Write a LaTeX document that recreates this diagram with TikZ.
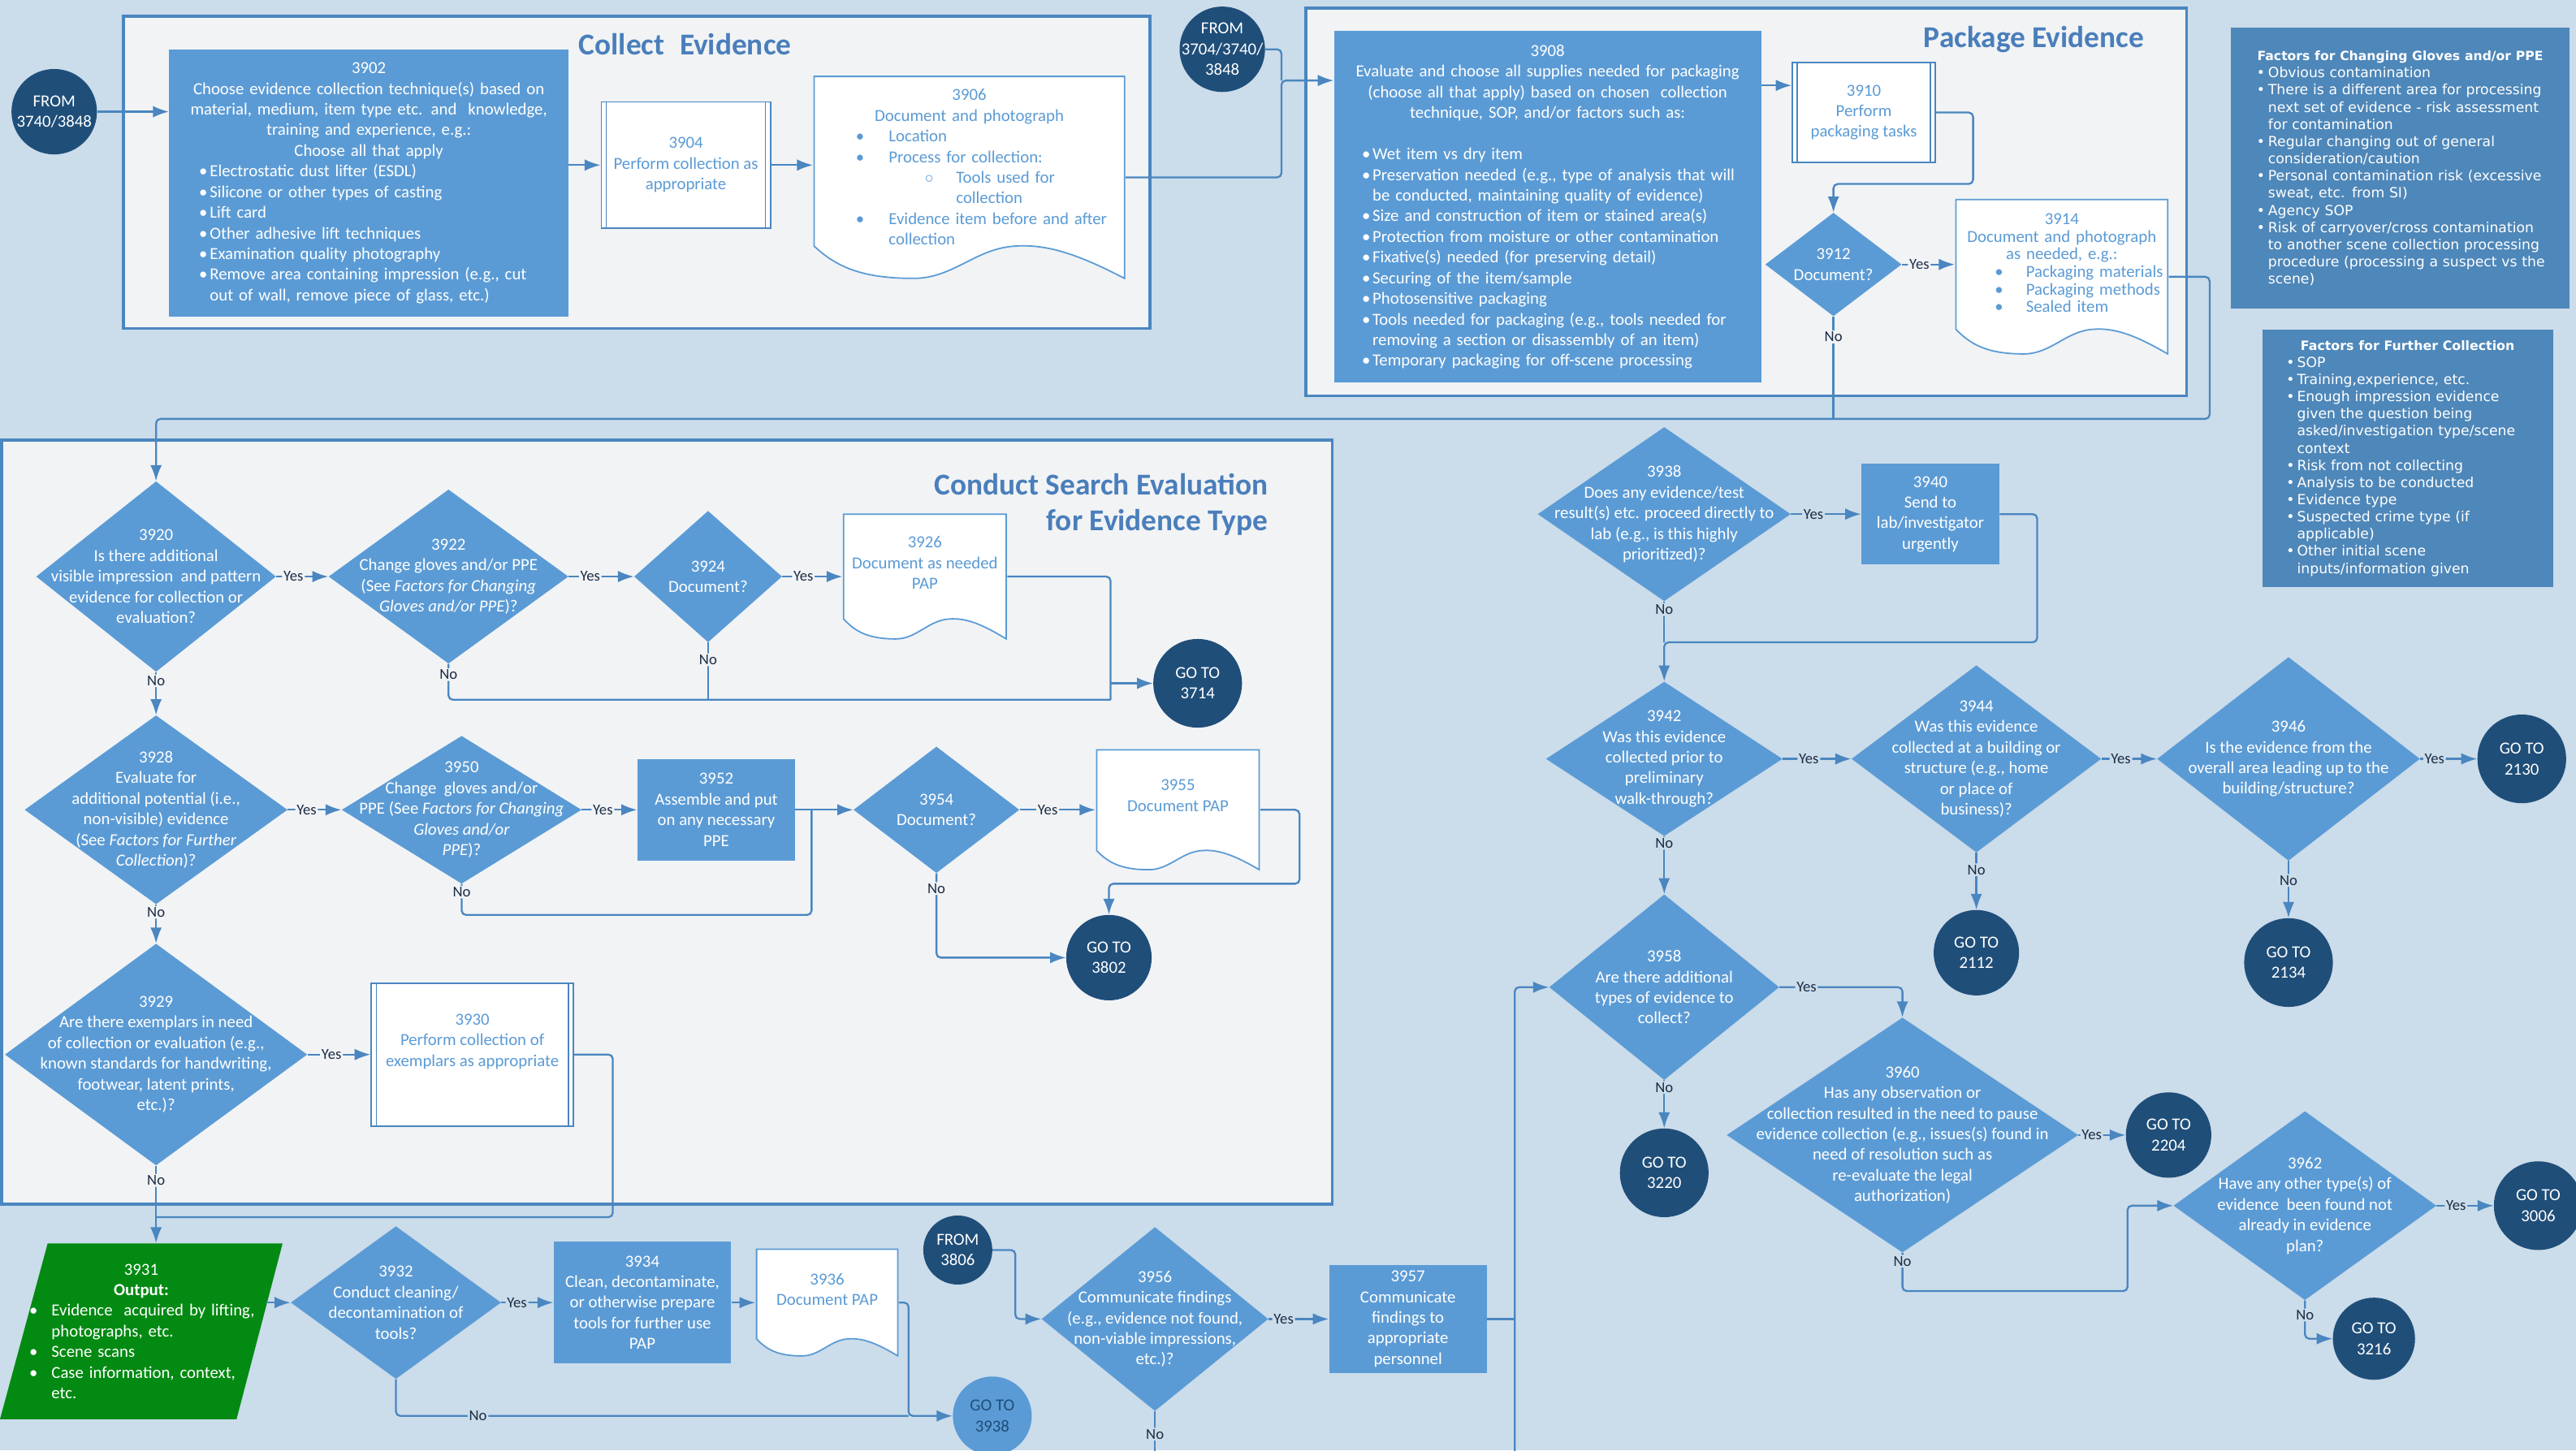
\documentclass[tikz,border=0pt]{standalone}
\usepackage{fontspec}
\setmainfont{Carlito}
\newfontfamily\factfont{DejaVu Sans}
\usetikzlibrary{shapes.geometric,arrows.meta,calc}

\definecolor{bgc}{HTML}{CBDCEA}
\definecolor{panelc}{HTML}{F1F3F5}
\definecolor{linec}{HTML}{4A86C0}
\definecolor{boxc}{HTML}{5B9BD5}
\definecolor{darkc}{HTML}{1F4E79}
\definecolor{factc}{HTML}{4E87B9}
\definecolor{greenc}{HTML}{038A12}
\definecolor{titlec}{HTML}{4A7EBB}
\definecolor{labc}{HTML}{1C2C45}

\hyphenpenalty=10000
\exhyphenpenalty=10000
\newcommand{\nfont}{\fontsize{11.7}{14.3}\selectfont}
\newcommand{\li}[3]{\par\leftskip=#1\hangindent=#2\hangafter=1\noindent\hbox to #2{#3\hfil}\ignorespaces}
\newcommand{\lift}[1]{\par\hbox{\rule{0pt}{#1}}}

\tikzset{
  sz/.style 2 args={minimum width=#1*0.04cm, minimum height=#2*0.04cm},
  panel/.style={draw=linec, line width=2pt, fill=panelc},
  ptitle/.style={text=titlec, font=\fontsize{21}{25}\selectfont\bfseries, align=right, inner sep=0pt},
  con/.style={draw=linec, line width=1.3pt, rounded corners=3pt},
  yn/.style={text=labc, font=\fontsize{10.5}{12}\selectfont, fill=panelc, inner sep=1pt},
  yno/.style={yn, fill=bgc},
  proc/.style={rectangle, fill=boxc, text=white, font=\nfont, align=center, inner sep=1pt},
  dia/.style 2 args={diamond, fill=boxc, inner sep=0pt, minimum width=#1*0.04cm, minimum height=#2*0.04cm},
  dtext/.style={text=white, font=\nfont, align=center, inner sep=0pt},
  gocirc/.style={circle, fill=darkc, inner sep=0pt, minimum size=#1*0.04cm},
  ctext/.style={text=white, font=\nfont, align=center, inner sep=0pt},
  wbox/.style={rectangle, draw=linec, line width=1pt, fill=white, text=boxc, font=\nfont, align=center, inner sep=1pt,
    path picture={\draw[linec, line width=0.8pt]
      ([xshift=3.4pt]path picture bounding box.north west) -- ([xshift=3.4pt]path picture bounding box.south west)
      ([xshift=-3.4pt]path picture bounding box.north east) -- ([xshift=-3.4pt]path picture bounding box.south east);}},
  docbox/.style={rectangle, text=boxc, font=\nfont, align=center, inner sep=1pt,
    path picture={\filldraw[draw=boxc, fill=white, line width=1pt]
      let \p1=([shift={(0.6pt,-0.6pt)}]path picture bounding box.north west),
          \p2=([shift={(-0.6pt,0.6pt)}]path picture bounding box.south east) in
      (\x1,\y1) -- (\x2,\y1) -- (\x2,\y2)
      .. controls ({\x1+0.85*(\x2-\x1)},{\y2+0.12*(\y1-\y2)}) and ({\x1+0.75*(\x2-\x1)},{\y2+0.17*(\y1-\y2)}) .. ({\x1+0.65*(\x2-\x1)},{\y2+0.16*(\y1-\y2)})
      .. controls ({\x1+0.52*(\x2-\x1)},{\y2+0.15*(\y1-\y2)}) and ({\x1+0.45*(\x2-\x1)},{\y2}) .. ({\x1+0.32*(\x2-\x1)},{\y2})
      .. controls ({\x1+0.15*(\x2-\x1)},{\y2}) and ({\x1+0.07*(\x2-\x1)},{\y2+0.06*(\y1-\y2)}) .. (\x1,{\y2+0.16*(\y1-\y2)}) -- cycle;}},
  outbox/.style={rectangle, text=white, font=\nfont, align=left, inner sep=1pt,
    path picture={\fill[greenc] ([xshift=1.16cm]path picture bounding box.north west) -- (path picture bounding box.north east)
      -- ([xshift=-1.12cm]path picture bounding box.south east) -- (path picture bounding box.south west) -- cycle;}},
  fact/.style={rectangle, fill=factc, text=white, font=\factfont\fontsize{9.7}{11.9}\selectfont, align=left, inner sep=2pt}
}

\begin{document}
\begin{tikzpicture}[x=0.04cm, y=-0.04cm]
\tikzset{>={Latex[length=11pt,width=8pt]}}
\useasboundingbox (0,0) rectangle (1568,883);
\clip (0,0) rectangle (1568,883);
\fill[bgc] (0,0) rectangle (1568,883);
\draw[panel] (75,10) rectangle (700,200);
\draw[panel] (795,5) rectangle (1331,241);
\draw[panel] (1,268) rectangle (811,733);
\node[ptitle] (tcollect) at (417,27) {Collect\enspace Evidence};
\node[ptitle] (tpackage) at (1238,24) {Package Evidence};
\node[ptitle, anchor=north east] (tsearch) at (772,288) {Conduct Search Evaluation\\for Evidence Type};

\node[gocirc=52] (from1) at (33,68) {};
\node[ctext] (from1t) at (from1) {FROM\\3740/3848};
\node[proc, sz={243}{163}, text width=8.9cm, align=left, inner xsep=0.4cm] (b3902) at (224.5,111.5) {%
{\centering 3902\\Choose evidence collection technique(s) based on\\material, medium, item type etc. and\ \ knowledge,\\training and experience, e.g.:\\Choose all that apply\par}
\li{0.32cm}{0.26cm}{\textbullet}Electrostatic dust lifter (ESDL)
\li{0.32cm}{0.26cm}{\textbullet}Silicone or other types of casting
\li{0.32cm}{0.26cm}{\textbullet}Lift card
\li{0.32cm}{0.26cm}{\textbullet}Other adhesive lift techniques
\li{0.32cm}{0.26cm}{\textbullet}Examination quality photography
\li{0.32cm}{0.26cm}{\textbullet}Remove area containing impression (e.g., cut\newline out of wall, remove piece of glass, etc.)\par};
\node[wbox, sz={103}{77}] (b3904) at (417.5,100.5) {3904\\Perform collection as\\appropriate};
\node[docbox, sz={190}{124}, text width=7.3cm, align=left] (d3906) at (590,108) {%
{\centering 3906\\Document and photograph\par}
\li{0.89cm}{0.8cm}{\textbullet}Location
\li{0.89cm}{0.8cm}{\textbullet}Process for collection:
\li{2.57cm}{0.76cm}{$\circ$}Tools used for\newline collection
\li{0.89cm}{0.8cm}{\textbullet}Evidence item before and after\newline collection\par
\lift{12pt}};

\node[gocirc=52] (from2) at (744,30) {};
\node[ctext] (from2t) at (from2) {FROM\\3704/3740/\\3848};
\node[proc, sz={260}{214}, text width=9.6cm, align=left, inner xsep=0.4cm] (b3908) at (942,126) {%
{\centering 3908\\Evaluate and choose all supplies needed for packaging\\(choose all that apply) based on chosen\ \ collection\\technique, SOP, and/or factors such as:\par}
\vspace{14.3pt}
\li{0.28cm}{0.26cm}{\textbullet}Wet item vs dry item
\li{0.28cm}{0.26cm}{\textbullet}Preservation needed (e.g., type of analysis that will\newline be conducted, maintaining quality of evidence)
\li{0.28cm}{0.26cm}{\textbullet}Size and construction of item or stained area(s)
\li{0.28cm}{0.26cm}{\textbullet}Protection from moisture or other contamination
\li{0.28cm}{0.26cm}{\textbullet}Fixative(s) needed (for preserving detail)
\li{0.28cm}{0.26cm}{\textbullet}Securing of the item/sample
\li{0.28cm}{0.26cm}{\textbullet}Photosensitive packaging
\li{0.28cm}{0.26cm}{\textbullet}Tools needed for packaging (e.g., tools needed for\newline removing a section or disassembly of an item)
\li{0.28cm}{0.26cm}{\textbullet}Temporary packaging for off-scene processing\par};
\node[wbox, sz={87}{61}] (b3910) at (1134.5,68.5) {3910\\Perform\\packaging tasks};
\node[dia={83}{63}] (d3912) at (1116,161) {};
\node[dtext] (t3912) at (d3912) {3912\\Document?};
\node[docbox, sz={130}{95}, text width=5.1cm, align=left, font=\fontsize{11.7}{12.2}\selectfont] (d3914) at (1255,168.5) {%
{\centering 3914\\Document and photograph\\as needed, e.g.:\par}
\li{0.92cm}{0.76cm}{\textbullet}Packaging materials
\li{0.92cm}{0.76cm}{\textbullet}Packaging methods
\li{0.92cm}{0.76cm}{\textbullet}Sealed item\par
\lift{18pt}};

\node[fact, sz={206}{171}, text width=7.15cm] (f1) at (1461,102.5) {%
\hbox to \linewidth{\hss\bfseries\fontsize{8.8}{11.9}\selectfont Factors for Changing Gloves and/or PPE\hss}
\li{0.08cm}{0.28cm}{\textbullet}Obvious contamination
\li{0.08cm}{0.28cm}{\textbullet}There is a different area for processing\newline next set of evidence - risk assessment\newline for contamination
\li{0.08cm}{0.28cm}{\textbullet}Regular changing out of general\newline consideration/caution
\li{0.08cm}{0.28cm}{\textbullet}Personal contamination risk (excessive\newline sweat, etc. from SI)
\li{0.08cm}{0.28cm}{\textbullet}Agency SOP
\li{0.08cm}{0.28cm}{\textbullet}Risk of carryover/cross contamination\newline to another scene collection processing\newline procedure (processing a suspect vs the\newline scene)\par};
\node[fact, sz={177}{157}, text width=5.9cm] (f2) at (1465.5,279) {%
{\centering\bfseries\fontsize{8.9}{11.9}\selectfont Factors for Further Collection\par}
\li{0pt}{0.26cm}{\textbullet}SOP
\li{0pt}{0.26cm}{\textbullet}Training,experience, etc.
\li{0pt}{0.26cm}{\textbullet}Enough impression evidence\newline given the question being\newline asked/investigation type/scene\newline context
\li{0pt}{0.26cm}{\textbullet}Risk from not collecting
\li{0pt}{0.26cm}{\textbullet}Analysis to be conducted
\li{0pt}{0.26cm}{\textbullet}Evidence type
\li{0pt}{0.26cm}{\textbullet}Suspected crime type (if\newline applicable)
\li{0pt}{0.26cm}{\textbullet}Other initial scene\newline inputs/information given\par};

\node[dia={146}{116}] (d3920) at (95,351) {};
\node[dtext] (t3920) at (d3920) {3920\\Is there additional\\visible impression\ \ and pattern\\evidence for collection or\\evaluation?};
\node[dia={146}{106}] (d3922) at (273,351) {};
\node[dtext] (t3922) at (d3922) {3922\\Change gloves and/or PPE\\(See \textit{Factors for Changing}\\\textit{Gloves and/or PPE})?};
\node[dia={90}{80}] (d3924) at (431,351) {};
\node[dtext] (t3924) at (d3924) {3924\\Document?};
\node[docbox, sz={100}{77}, text depth=19pt] (d3926) at (563,351) {3926\\Document as needed\\PAP};
\node[gocirc=54] (c3714) at (729,416) {};
\node[ctext] (c3714t) at (c3714) {GO TO\\3714};

\node[dia={160}{115}] (d3928) at (95,493) {};
\node[dtext] (t3928) at (d3928) {3928\\Evaluate for\\additional potential (i.e.,\\non-visible) evidence\\(See \textit{Factors for Further}\\\textit{Collection})?};
\node[dia={146}{90}] (d3950) at (281,493) {};
\node[dtext] (t3950) at (d3950) {3950\\Change\ \ gloves and/or\\PPE (See \textit{Factors for Changing}\\\textit{Gloves and/or}\\\textit{PPE})?};
\node[proc, sz={96}{62}] (b3952) at (436,493) {3952\\Assemble and put\\on any necessary\\PPE};
\node[dia={101}{77}] (d3954) at (570,493) {};
\node[dtext] (t3954) at (d3954) {3954\\Document?};
\node[docbox, sz={100}{74}, text depth=20pt] (d3955) at (717,493) {3955\\Document PAP};
\node[gocirc=52] (c3802) at (675,583) {};
\node[ctext] (c3802t) at (c3802) {GO TO\\3802};

\node[dia={184}{135}] (d3929) at (95,642) {};
\node[dtext] (t3929) at (d3929) {3929\\Are there exemplars in need\\of collection or evaluation (e.g.,\\known standards for handwriting,\\footwear, latent prints,\\etc.)?};
\node[wbox, sz={123}{87}, text depth=20pt] (b3930) at (287.5,642) {3930\\Perform collection of\\exemplars as appropriate};

\node[outbox, sz={172}{107}, text width=5.85cm] (p3931) at (86,810.5) {%
{\centering 3931\\\textbf{Output:}\par}
\li{0.2cm}{0.54cm}{\textbullet}Evidence\ \ acquired by lifting,\newline photographs, etc.
\li{0.2cm}{0.54cm}{\textbullet}Scene scans
\li{0.2cm}{0.54cm}{\textbullet}Case information, context,\newline etc.\par};
\node[dia={128}{93}] (d3932) at (241,793) {};
\node[dtext] (t3932) at (d3932) {3932\\Conduct cleaning/\\decontamination of\\tools?};
\node[proc, sz={108}{74}] (b3934) at (391,793) {3934\\Clean, decontaminate,\\or otherwise prepare\\tools for further use\\PAP};
\node[docbox, sz={87}{66}, text depth=18pt] (d3936) at (503.5,793) {3936\\Document PAP};
\node[gocirc=48, fill=boxc] (c3938) at (604,862) {};
\node[ctext, text=darkc] (c3938t) at (c3938) {GO TO\\3938};
\node[gocirc=42] (c3806) at (583,761) {};
\node[ctext] (c3806t) at (c3806) {FROM\\3806};
\node[dia={138}{112}] (d3956) at (703,803) {};
\node[dtext] (t3956) at (d3956) {3956\\Communicate findings\\(e.g., evidence not found,\\non-viable impressions,\\etc.)?};
\node[proc, sz={96}{66}] (b3957) at (857,803) {3957\\Communicate\\findings to\\appropriate\\personnel};

\node[dia={154}{106}] (d3938) at (1013,313) {};
\node[dtext] (t3938) at (d3938) {3938\\Does any evidence/test\\result(s) etc. proceed directly to\\lab (e.g., is this highly\\prioritized)?};
\node[proc, sz={84}{61}] (b3940) at (1175,313) {3940\\Send to\\lab/investigator\\urgently};
\node[dia={144}{94}] (d3942) at (1013,462) {};
\node[dtext] (t3942) at (d3942) {3942\\Was this evidence\\collected prior to\\preliminary\\walk-through?};
\node[dia={152}{114}] (d3944) at (1203,462) {};
\node[dtext] (t3944) at (d3944) {3944\\Was this evidence\\collected at a building or\\structure (e.g., home\\or place of\\business)?};
\node[dia={160}{124}] (d3946) at (1393,462) {};
\node[dtext] (t3946) at (d3946) {3946\\Is the evidence from the\\overall area leading up to the\\building/structure?};
\node[gocirc=54] (c2130) at (1535,462) {};
\node[ctext] (c2130t) at (c2130) {GO TO\\2130};
\node[gocirc=52] (c2112) at (1203,580) {};
\node[ctext] (c2112t) at (c2112) {GO TO\\2112};
\node[gocirc=54] (c2134) at (1393,586) {};
\node[ctext] (c2134t) at (c2134) {GO TO\\2134};
\node[dia={140}{113}] (d3958) at (1013,601) {};
\node[dtext] (t3958) at (d3958) {3958\\Are there additional\\types of evidence to\\collect?};
\node[dia={214}{143}] (d3960) at (1158,691) {};
\node[dtext] (t3960) at (d3960) {3960\\Has any observation or\\collection resulted in the need to pause\\evidence collection (e.g., issues(s) found in\\need of resolution such as\\re-evaluate the legal\\authorization)};
\node[gocirc=52] (c2204) at (1320,691) {};
\node[ctext] (c2204t) at (c2204) {GO TO\\2204};
\node[gocirc=54] (c3220) at (1013,714) {};
\node[ctext] (c3220t) at (c3220) {GO TO\\3220};
\node[dia={160}{115}] (d3962) at (1403,734) {};
\node[dtext] (t3962) at (d3962) {3962\\Have any other type(s) of\\evidence\ \ been found not\\already in evidence\\plan?};
\node[gocirc=54] (c3006) at (1545,734) {};
\node[ctext] (c3006t) at (c3006) {GO TO\\3006};
\node[gocirc=50] (c3216) at (1445,815) {};
\node[ctext] (c3216t) at (c3216) {GO TO\\3216};

\coordinate (j1) at (780,49);
\coordinate (a3910) at ([yshift=0.66cm]b3910.west);
\coordinate (j2) at (1201,112);
\coordinate (j3) at (1345,255);
\coordinate (j4) at (95,255);
\coordinate (j5) at (676,426);
\coordinate (j7) at (494,557);
\coordinate (j8) at (791,538);
\coordinate (j9) at (373,741);
\coordinate (s3931) at (162,793);
\coordinate (j11) at (553,862);
\coordinate (j12) at (618,803);
\coordinate (j13) at (922,803);
\coordinate (j14) at (922,900);
\coordinate (j15) at (1240,391);
\coordinate (j16) at (1295,786);

\draw[con,->] (from1) -- (b3902.west |- from1);
\draw[con,->] (b3902.east |- b3904) -- (b3904);
\draw[con,->] (b3904) -- (d3906.west |- b3904);
\draw[con,->] (d3906.east) -| (j1) -- (j1 -| b3908.west);
\draw[con] (from2) -| (j1);
\draw[con,->] (b3908.east |- a3910) -- (a3910);
\draw[con,->] (b3910.east) -| (j2) -| (d3912);
\draw[con,->] (d3912) -- node[yn, pos=0.33]{Yes} (d3914.west |- d3912);
\draw[con,->] (d3914.east) -| (j3) -- (j4) -- (d3920);
\draw[con] (d3912) -- node[yn, pos=0.2]{No} (d3912 |- j3);

\draw[con,->] (d3920) -- node[yn, pos=0.33]{Yes} (d3922);
\draw[con,->] (d3922) -- node[yn, pos=0.33]{Yes} (d3924);
\draw[con,->] (d3924) -- node[yn, pos=0.35]{Yes} (d3926);
\draw[con] (d3926) -| (j5);
\draw[con] (d3922) |- node[yn, pos=0.15]{No} (j5);
\draw[con] (d3924) -- node[yn, pos=0.3]{No} (d3924 |- j5);
\draw[con,->] (c3714 -| j5) -- (c3714);
\draw[con,->] (d3920) -- node[yn, pos=0.2]{No} (d3928);
\draw[con,->] (d3928) -- node[yn, pos=0.35]{Yes} (d3950);
\draw[con,->] (d3950) -- node[yn, pos=0.38]{Yes} (b3952);
\draw[con,->] (b3952) -- (d3954);
\draw[con] (d3950) |- node[yn, pos=0.13]{No} (j7) -- (j7 |- d3954);
\draw[con,->] (d3954) -- node[yn, pos=0.37]{Yes} (d3955);
\draw[con,->] (d3955) -| (j8) -| (c3802);
\draw[con,->] (d3954) |- node[yn, pos=0.09]{No} (c3802);
\draw[con,->] (d3928) -- node[yn, pos=0.2]{No} (d3929);
\draw[con,->] (d3929) -- node[yn, pos=0.38]{Yes} (b3930);
\draw[con] (b3930) -| (j9) -- (j9 -| d3929);
\draw[con,->] (d3929) -- node[yn, pos=0.19]{No} (d3929 |- p3931.north);

\draw[con,->] (s3931) -- (d3932);
\draw[con,->] (d3932) -- node[yno, pos=0.3]{Yes} (b3934);
\draw[con,->] (b3934) -- (d3936);
\draw[con,->] (d3936) -| (j11) -- (c3938);
\draw[con] (d3932) |- node[yno, pos=0.58]{No} (j11);
\draw[con,->] (c3806) -| (j12) -- (d3956);
\draw[con,->] (d3956) -- node[yno, pos=0.25]{Yes} (b3957);
\draw[con] (b3957) -- (j13);
\draw[con,->] (j14) |- (d3958);
\draw[con] (d3956) -- node[yno, pos=0.34]{No} (d3956 |- j14);

\draw[con,->] (d3938) -- node[yno, pos=0.32]{Yes} (b3940);
\draw[con,->] (b3940) -| (j15) -| (d3942);
\draw[con] (d3938) -- node[yno, pos=0.2]{No} (d3938 |- j15);
\draw[con,->] (d3942) -- node[yno, pos=0.38]{Yes} (d3944);
\draw[con,->] (d3944) -- node[yno, pos=0.35]{Yes} (d3946);
\draw[con,->] (d3946) -- node[yno, pos=0.25]{Yes} (c2130);
\draw[con,->] (d3944) -- node[yno, pos=0.3]{No} (c2112);
\draw[con,->] (d3946) -- node[yno, pos=0.34]{No} (c2134);
\draw[con,->] (d3942) -- node[yno, pos=0.12]{No} (d3958);
\draw[con,->] (d3958) -| node[yno, pos=0.11]{Yes} (d3960);
\draw[con,->] (d3958) -- node[yno, pos=0.15]{No} (c3220);
\draw[con,->] (d3960) -- node[yno, pos=0.28]{Yes} (c2204);
\draw[con,->] (d3960) |- node[yno, pos=0.11]{No} (j16) |- (d3962);
\draw[con,->] (d3962) -- node[yno, pos=0.34]{Yes} (c3006);
\draw[con,->] (d3962) |- node[yno, pos=0.19]{No} (c3216);
\end{tikzpicture}
\end{document}
